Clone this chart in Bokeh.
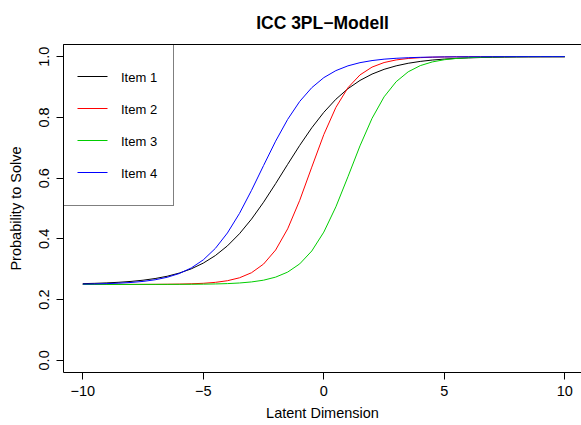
from bokeh.plotting import figure
from bokeh.models import Range1d, FixedTicker, LinearAxis, Legend, LegendItem, Title
from bokeh.embed import file_html
from bokeh.resources import INLINE

# ---- data ----
theta = [-10, -9.5, -9, -8.5, -8, -7.5, -7, -6.5, -6, -5.5,
         -5, -4.5, -4, -3.5, -3, -2.5, -2, -1.5, -1, -0.5,
         0, 0.5, 1, 1.5, 2, 2.5, 3, 3.5, 4, 4.5,
         5, 5.5, 6, 6.5, 7, 7.5, 8, 8.5, 9, 9.5, 10]

item1 = [0.2526, 0.2536, 0.2551, 0.2571, 0.2599, 0.2639, 0.2694, 0.2769, 0.2873, 0.3013,
         0.3202, 0.3450, 0.3769, 0.4169, 0.4651, 0.5207, 0.5819, 0.6454, 0.7078, 0.7657,
         0.8167, 0.8597, 0.8945, 0.9217, 0.9426, 0.9582, 0.9697, 0.9782, 0.9843, 0.9888,
         0.9920, 0.9943, 0.9959, 0.9971, 0.9979, 0.9985, 0.9990, 0.9993, 0.9995, 0.9996,
         0.9997]
item2 = [0.2500, 0.2500, 0.2500, 0.2501, 0.2501, 0.2502, 0.2503, 0.2506, 0.2511, 0.2521,
         0.2537, 0.2568, 0.2622, 0.2718, 0.2885, 0.3171, 0.3633, 0.4330, 0.5270, 0.6362,
         0.7435, 0.8329, 0.8976, 0.9398, 0.9656, 0.9806, 0.9892, 0.9940, 0.9967, 0.9982,
         0.9990, 0.9994, 0.9997, 0.9998, 0.9999, 0.9999, 1.0, 1.0, 1.0, 1.0,
         1.0]
item3 = [0.2500, 0.2500, 0.2500, 0.2500, 0.2500, 0.2501, 0.2501, 0.2502, 0.2503, 0.2505,
         0.2509, 0.2516, 0.2527, 0.2547, 0.2582, 0.2640, 0.2740, 0.2906, 0.3177, 0.3601,
         0.4223, 0.5055, 0.6044, 0.7062, 0.7968, 0.8676, 0.9174, 0.9501, 0.9704, 0.9826,
         0.9899, 0.9941, 0.9966, 0.9980, 0.9989, 0.9993, 0.9996, 0.9998, 0.9999, 0.9999,
         0.9999]
item4 = [0.2511, 0.2517, 0.2527, 0.2541, 0.2564, 0.2599, 0.2653, 0.2735, 0.2858, 0.3042,
         0.3309, 0.3686, 0.4194, 0.4837, 0.5597, 0.6415, 0.7217, 0.7935, 0.8526, 0.8979,
         0.9309, 0.9540, 0.9697, 0.9802, 0.9871, 0.9917, 0.9946, 0.9965, 0.9978, 0.9986,
         0.9991, 0.9994, 0.9996, 0.9997, 0.9998, 0.9999, 0.9999, 1.0, 1.0, 1.0,
         1.0]

series_names = ["Item 1", "Item 2", "Item 3", "Item 4"]
series_colors = ["#000000", "#FF0000", "#00CD00", "#0000FF"]

x_ticks = [-10, -5, 0, 5, 10]
x_tick_labels = ["\u221210", "\u22125", "0", "5", "10"]
y_ticks = [0.0, 0.2, 0.4, 0.6, 0.8, 1.0]
y_tick_labels = ["0.0", "0.2", "0.4", "0.6", "0.8", "1.0"]

title_text = "ICC 3PL\u2212Modell"
x_title = "Latent Dimension"
y_title = "Probability to Solve"

FONT = "Liberation Sans"

# ---- layout constants ----
W, H = 581, 425
B_LEFT, B_RIGHT, B_TOP, B_BOTTOM = 63, 0, 44, 53
X_START, X_END = -10.8, 10.69
Y_START, Y_END = -0.04, 1.04
LG_PAD, LG_ROW, LG_GLYPH_W = 16, 32, 30
FRAME_H = H - B_TOP - B_BOTTOM

p = figure(width=W, height=H,
           x_range=Range1d(X_START, X_END), y_range=Range1d(Y_START, Y_END),
           output_backend="svg", toolbar_location=None,
           min_border_left=B_LEFT, min_border_right=B_RIGHT,
           min_border_top=B_TOP, min_border_bottom=B_BOTTOM)

p.xgrid.visible = False
p.ygrid.visible = False
p.outline_line_color = None
p.background_fill_color = "white"
p.border_fill_color = "white"

for ys, col in zip([item1, item2, item3, item4], series_colors):
    p.line(theta, ys, line_color=col, line_width=1)

# legend sample strokes placed inside the legend box (pixel offsets -> data units)
dx = (X_END - X_START) / (W - B_LEFT - B_RIGHT)
dy = (Y_END - Y_START) / FRAME_H
sample_x0 = [X_START + (LG_PAD - 2) * dx] * len(series_names)
sample_x1 = [X_START + (LG_PAD - 2 + LG_GLYPH_W) * dx] * len(series_names)
sample_y = [Y_END - (LG_PAD + LG_ROW / 2 + LG_ROW * i) * dy for i in range(len(series_names))]
p.segment(x0=sample_x0, y0=sample_y, x1=sample_x1, y1=sample_y,
          line_color=series_colors, line_width=1)

# legend: labels + box (glyph slots left empty, strokes drawn above)
dummies = [p.line(x=[], y=[]) for _ in series_names]
lg = Legend(items=[LegendItem(label=n, renderers=[r]) for n, r in zip(series_names, dummies)])
lg.location = "top_left"
lg.margin = 0
lg.padding = LG_PAD
lg.spacing = 0
lg.glyph_width = LG_GLYPH_W
lg.glyph_height = LG_ROW
lg.label_height = LG_ROW
lg.label_standoff = 11
lg.label_text_font = FONT
lg.label_text_font_size = "13px"
lg.label_text_color = "black"
lg.border_line_color = "black"
lg.border_line_width = 1
lg.background_fill_alpha = 0
p.add_layout(lg, "center")

# axes
for ax in (p.xaxis[0], p.yaxis[0]):
    ax.axis_line_color = "black"
    ax.axis_line_width = 1
    ax.major_tick_line_color = "black"
    ax.major_tick_out = 7
    ax.major_tick_in = 0
    ax.minor_tick_out = 0
    ax.minor_tick_in = 0
    ax.major_label_text_font = FONT
    ax.major_label_text_font_size = "14.5px"
    ax.major_label_text_color = "black"

p.xaxis[0].ticker = FixedTicker(ticks=x_ticks)
p.xaxis[0].major_label_overrides = dict(zip(x_ticks, x_tick_labels))
p.xaxis[0].major_label_standoff = 6

p.yaxis[0].ticker = FixedTicker(ticks=y_ticks)
p.yaxis[0].major_label_overrides = dict(zip(y_ticks, y_tick_labels))
p.yaxis[0].major_label_orientation = "vertical"
p.yaxis[0].major_label_standoff = 7
p.yaxis[0].axis_label = y_title
p.yaxis[0].axis_label_text_font = FONT
p.yaxis[0].axis_label_text_font_size = "14.5px"
p.yaxis[0].axis_label_text_font_style = "normal"
p.yaxis[0].axis_label_text_color = "black"
p.yaxis[0].axis_label_standoff = 13

# top box line
top_ax = LinearAxis(ticker=FixedTicker(ticks=[]), axis_line_color="black",
                    major_tick_out=0, major_tick_in=0, minor_tick_out=0, minor_tick_in=0,
                    major_label_text_font_size="0px")
p.add_layout(top_ax, "above")

# x axis title
xlab = Title(text=x_title, align="center", offset=1,
             text_font=FONT, text_font_size="14.5px", text_font_style="normal",
             text_color="black", standoff=9)
p.add_layout(xlab, "below")

# main title
p.title.text = title_text
p.title.align = "center"
p.title.vertical_align = "top"
p.title.offset = 1
p.title.standoff = 20
p.title.text_font = FONT
p.title.text_font_size = "17.5px"
p.title.text_font_style = "bold"
p.title.text_color = "black"

open("out.html", "w").write(file_html(p, INLINE))
